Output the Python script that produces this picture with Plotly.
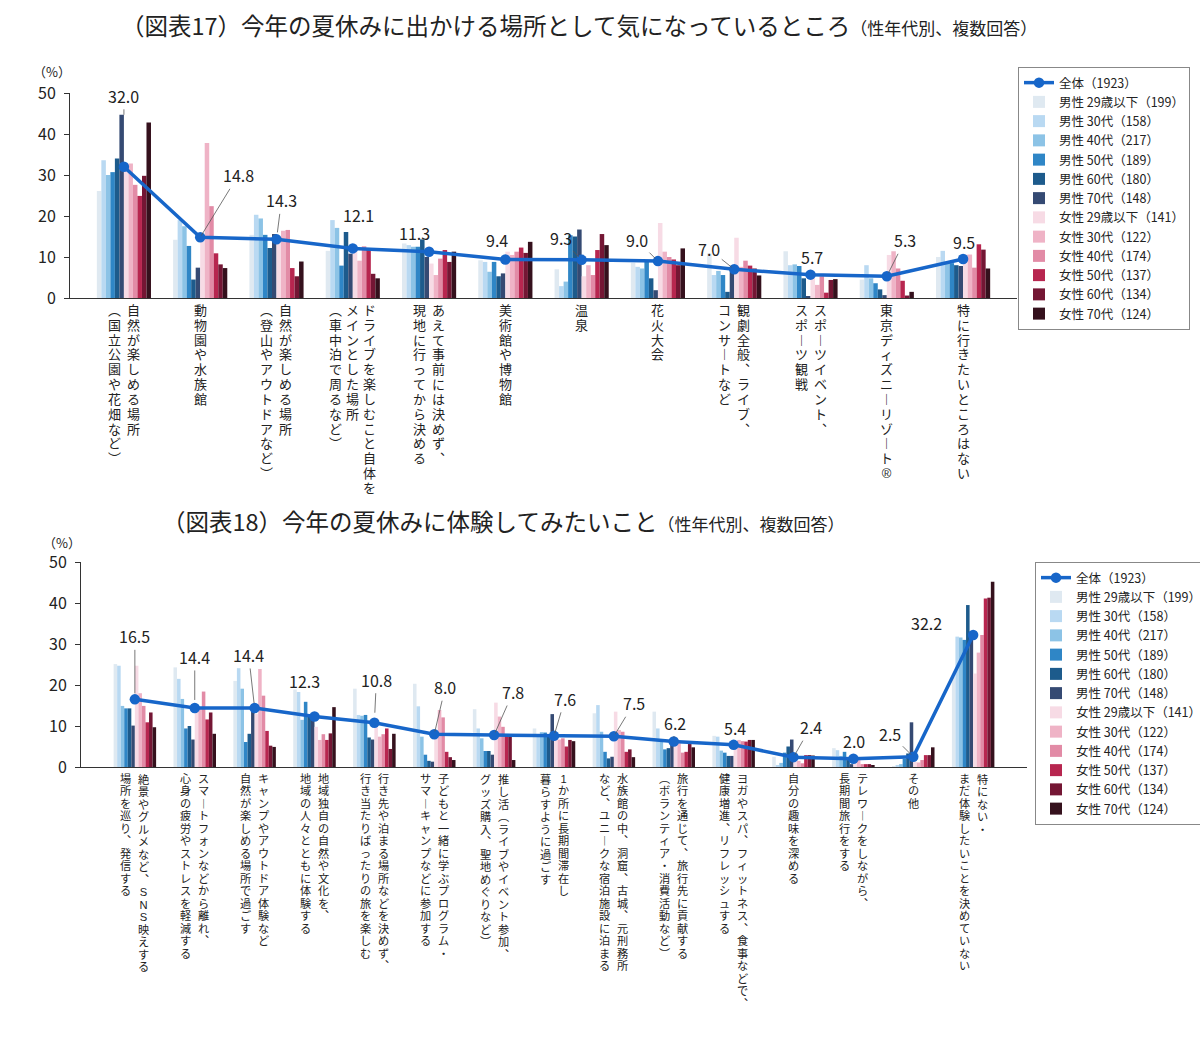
import plotly.graph_objects as go

FONT = "Noto Sans CJK JP"
VFONT = "Liberation Sans, Noto Sans CJK JP"
TXT = "#222222"
LINE_COLOR = "#1766c9"

# ---------------- data ----------------
series_names = ["男性 29歳以下（199）", "男性 30代（158）", "男性 40代（217）", "男性 50代（189）",
                "男性 60代（180）", "男性 70代（148）", "女性 29歳以下（141）", "女性 30代（122）",
                "女性 40代（174）", "女性 50代（137）", "女性 60代（134）", "女性 70代（124）"]
total_name = "全体（1923）"

# chart 17 categories (each entry = vertical text columns, right to left)
cats1 = [
    ["自然が楽しめる場所", "（国立公園や花畑など）"],
    ["動物園や水族館"],
    ["自然が楽しめる場所", "（登山やアウトドアなど）"],
    ["ドライブを楽しむこと自体を", "メインとした場所", "（車中泊で周るなど）"],
    ["あえて事前には決めず、", "現地に行ってから決める"],
    ["美術館や博物館"],
    ["温泉"],
    ["花火大会"],
    ["観劇全般、ライブ、", "コンサートなど"],
    ["スポーツイベント、", "スポーツ観戦"],
    ["東京ディズニーリゾート®"],
    ["特に行きたいところはない"],
]
total1 = [32.0, 14.8, 14.3, 12.1, 11.3, 9.4, 9.3, 9.0, 7.0, 5.7, 5.3, 9.5]
m29_1 = [26.1, 14.2, 15.4, 11.5, 13.3, 9.2, 7.0, 8.6, 10.9, 11.4, 4.5, 10.0]
m30_1 = [33.6, 19.0, 20.3, 19.0, 12.9, 8.8, 2.9, 7.6, 5.6, 8.0, 8.0, 11.5]
m40_1 = [30.0, 17.5, 19.4, 17.1, 12.5, 6.4, 4.0, 7.2, 6.6, 8.2, 4.8, 8.5]
m50_1 = [30.7, 12.7, 15.4, 7.9, 12.5, 8.8, 15.3, 8.8, 5.6, 7.8, 3.6, 8.5]
m60_1 = [34.0, 4.5, 12.2, 16.1, 14.3, 5.3, 15.0, 4.8, 1.5, 4.8, 2.1, 8.0]
m70_1 = [44.7, 7.4, 15.6, 10.8, 10.0, 6.0, 16.7, 1.9, 6.5, 0.3, 0.7, 7.8]
f29_1 = [32.8, 15.5, 15.0, 11.3, 8.4, 11.3, 5.3, 18.3, 14.7, 5.0, 10.5, 10.6]
f30_1 = [32.8, 37.8, 16.4, 9.1, 5.6, 10.5, 8.0, 11.3, 7.6, 3.2, 11.4, 10.6]
f40_1 = [27.6, 22.4, 16.6, 12.6, 9.6, 11.3, 5.6, 10.0, 9.1, 5.3, 7.2, 7.4]
f50_1 = [24.9, 10.9, 7.3, 12.2, 11.7, 12.3, 11.7, 9.4, 7.9, 1.3, 4.2, 13.1]
f60_1 = [29.8, 8.2, 5.3, 5.9, 8.8, 11.0, 15.6, 8.0, 7.2, 4.4, 0.6, 11.8]
f70_1 = [42.8, 7.3, 8.9, 4.8, 11.3, 13.7, 12.9, 12.1, 5.5, 4.6, 1.5, 7.2]

# chart 18 categories
cats2 = [
    ["絶景やグルメなど、SNS映えする", "場所を巡り、発信する"],
    ["スマートフォンなどから離れ、", "心身の疲労やストレスを軽減する"],
    ["キャンプやアウトドア体験など", "自然が楽しめる場所で過ごす"],
    ["地域独自の自然や文化を、", "地域の人々とともに体験する"],
    ["行き先や泊まる場所などを決めず、", "行き当たりばったりの旅を楽しむ"],
    ["子どもと一緒に学ぶプログラム・", "サマーキャンプなどに参加する"],
    ["推し活（ライブやイベント参加、", "グッズ購入、聖地めぐりなど）"],
    ["1か所に長期間滞在し", "暮らすように過ごす"],
    ["水族館の中、洞窟、古城、元刑務所", "など、ユニークな宿泊施設に泊まる"],
    ["旅行を通じて、旅行先に貢献する", "（ボランティア・消費活動など）"],
    ["ヨガやスパ、フィットネス、食事などで、", "健康増進、リフレッシュする"],
    ["自分の趣味を深める"],
    ["テレワークをしながら、", "長期間旅行をする"],
    ["その他"],
    ["特にない・", "まだ体験したいことを決めていない"],
]
total2 = [16.5, 14.4, 14.4, 12.3, 10.8, 8.0, 7.8, 7.6, 7.5, 6.2, 5.4, 2.4, 2.0, 2.5, 32.2]
m29_2 = [25.1, 24.3, 21.0, 18.9, 19.1, 20.3, 14.1, 9.4, 13.1, 13.5, 7.6, 2.5, 4.6, 0.2, 22.0]
m30_2 = [24.7, 21.5, 24.1, 18.3, 12.7, 14.8, 9.4, 7.5, 15.1, 9.4, 7.4, 0.5, 4.1, 0.5, 31.8]
m40_2 = [14.9, 16.6, 19.1, 11.5, 12.5, 7.4, 7.0, 8.5, 8.6, 6.5, 4.0, 1.0, 2.7, 0.7, 31.6]
m50_2 = [14.3, 9.4, 6.1, 15.9, 12.7, 3.0, 3.9, 8.4, 3.7, 4.3, 3.5, 3.5, 3.7, 2.0, 31.0]
m60_2 = [14.3, 10.0, 8.1, 12.3, 7.2, 1.5, 3.9, 8.0, 2.1, 4.6, 2.7, 5.0, 1.7, 3.3, 39.5]
m70_2 = [10.1, 6.7, 13.5, 12.3, 6.7, 1.3, 3.0, 12.9, 2.5, 6.6, 2.7, 6.7, 0.7, 10.9, 33.0]
f29_2 = [24.7, 14.0, 13.0, 9.8, 11.9, 7.5, 15.7, 7.0, 13.5, 6.6, 5.4, 1.7, 1.3, 1.3, 22.8]
f30_2 = [18.0, 14.3, 23.9, 6.6, 7.4, 13.9, 12.3, 6.7, 9.0, 5.8, 6.6, 1.5, 1.7, 1.1, 27.9]
f40_2 = [14.9, 18.4, 17.4, 8.0, 8.0, 12.1, 9.8, 7.0, 8.6, 3.5, 6.3, 0.9, 0.7, 1.7, 32.2]
f50_2 = [10.9, 11.6, 8.8, 6.6, 9.4, 3.7, 7.8, 5.0, 3.7, 3.7, 6.2, 2.9, 0.7, 2.9, 41.1]
f60_2 = [13.3, 13.3, 5.2, 8.2, 4.4, 2.4, 7.4, 6.6, 4.3, 5.6, 6.6, 2.9, 0.7, 2.9, 41.3]
f70_2 = [9.7, 8.1, 4.9, 14.6, 8.1, 1.7, 1.7, 6.3, 2.4, 4.8, 6.6, 2.8, 0.3, 4.8, 45.2]

series1 = [m29_1, m30_1, m40_1, m50_1, m60_1, m70_1, f29_1, f30_1, f40_1, f50_1, f60_1, f70_1]
series2 = [m29_2, m30_2, m40_2, m50_2, m60_2, m70_2, f29_2, f30_2, f40_2, f50_2, f60_2, f70_2]

# ---------------- styles ----------------
bar_colors = ["#dfe9f1", "#b9d9f2", "#8cc3e6", "#2f86c6", "#1d5b8c", "#354a73",
              "#f7dbe5", "#efb3c6", "#e28ba6", "#b7264f", "#741634", "#35111d"]

# value label offsets in px: (ax, ay, standoff, leader)
lab1 = [(0, -71, 52, True), (38, -62, 2, True), (5, -39, 7, True), (6, -33, 0, False),
        (-15, -19, 0, False), (-8, -19, 0, False), (-21, -22, 4, True), (-21, -21, 4, True),
        (-25, -20, 3, True), (1, -18, 0, False), (18, -36, 4, True), (1, -17, 0, False)]
lab2 = [(0, -63, 6, True), (0, -51, 8, True), (-6, -53, 5, True), (-10, -36, 0, False),
        (2, -43, 10, True), (11, -47, 3, True), (19, -43, 3, True), (11, -37, 3, True),
        (20, -33, 3, True), (1, -19, 4, True), (1, -17, 0, False), (17, -30, 3, True),
        (1, -18, 0, False), (-23, -23, 3, True), (-47, -12, 0, False)]

VMAP = {"（": "︵", "）": "︶", "(": "︵", ")": "︶", "ー": "︱", "、": "︑"}


def vtext(s, size):
    return "<br>".join("<span style='font-size:%spx'>%s</span>" % (size, VMAP.get(c, c)) for c in s)


fig = go.Figure()
annotations = []


def add_chart(cats, series, total, xa, ya, legend, labs, label_top, col_offsets,
              base_size, char_size):
    keys = ["".join(c) for c in cats]
    fig.add_trace(go.Scatter(x=keys, y=total, name=total_name, mode="lines+markers",
                             line=dict(color=LINE_COLOR, width=3.5),
                             marker=dict(size=10.5, color=LINE_COLOR),
                             xaxis=xa, yaxis=ya, legend=legend, hoverinfo="skip"))
    for name, vals, col in zip(series_names, series, bar_colors):
        fig.add_trace(go.Bar(x=keys, y=vals, name=name,
                             marker=dict(color=col, line=dict(width=0)),
                             xaxis=xa, yaxis=ya, legend=legend))
    # value labels for the total line
    for k, v, (ax, ay, so, leader) in zip(keys, total, labs):
        annotations.append(dict(
            x=k, y=v, xref=xa, yref=ya, text="%.1f" % v, showarrow=True,
            ax=ax, ay=ay, arrowhead=0, arrowwidth=0.8, standoff=so,
            arrowcolor="#555555" if leader else "rgba(0,0,0,0)",
            font=dict(size=16, color=TXT, family=FONT)))
    # vertical category labels
    for k, cols in zip(keys, cats):
        offs = col_offsets[len(cols)]
        for line, dx in zip(cols, offs):
            annotations.append(dict(
                x=k, y=label_top, xref=xa, yref="paper", xanchor="center", yanchor="top",
                xshift=dx, showarrow=False, text=vtext(line, char_size),
                font=dict(size=base_size, color=TXT, family=VFONT)))


H = 1038.0
W = 1200.0
add_chart(cats1, series1, total1, "x", "y", "legend", lab1, 1 - 301 / H,
          {1: [0], 2: [9.5, -9.5], 3: [17, 0, -17]}, 11.4, 13)
add_chart(cats2, series2, total2, "x2", "y2", "legend2", lab2, 1 - 771 / H,
          {1: [0], 2: [9, -9]}, 9.6, 11.2)

# titles and unit labels
annotations.append(dict(x=579 / W, y=1 - 25 / H, xref="paper", yref="paper", showarrow=False,
                        xanchor="center", yanchor="middle",
                        text="（図表17）今年の夏休みに出かける場所として気になっているところ"
                             "<span style='font-size:17px'>（性年代別、複数回答）</span>",
                        font=dict(size=23.5, color=TXT, family=FONT)))
annotations.append(dict(x=503 / W, y=1 - 521 / H, xref="paper", yref="paper", showarrow=False,
                        xanchor="center", yanchor="middle",
                        text="（図表18）今年の夏休みに体験してみたいこと"
                             "<span style='font-size:17px'>（性年代別、複数回答）</span>",
                        font=dict(size=23.5, color=TXT, family=FONT)))
annotations.append(dict(x=52 / W, y=1 - 72 / H, xref="paper", yref="paper", showarrow=False,
                        xanchor="center", yanchor="middle", text="（%）",
                        font=dict(size=13, color=TXT, family=FONT)))
annotations.append(dict(x=62 / W, y=1 - 542 / H, xref="paper", yref="paper", showarrow=False,
                        xanchor="center", yanchor="middle", text="（%）",
                        font=dict(size=13, color=TXT, family=FONT)))

xaxis_style = dict(showline=True, linecolor="#333333", linewidth=1, ticks="",
                   showticklabels=False, showgrid=False, zeroline=False, fixedrange=True,
                   automargin=False)
yaxis_style = dict(range=[0, 50], dtick=10, ticks="outside", ticklen=5, tickcolor="#333333",
                   showline=True, linecolor="#333333", linewidth=1, showgrid=False,
                   zeroline=False, tickfont=dict(size=16, color=TXT, family=FONT),
                   ticklabelstandoff=5, fixedrange=True, automargin=False)

legend_style = dict(xanchor="left", yanchor="top", bordercolor="#888888", borderwidth=1,
                    bgcolor="white", font=dict(size=12.5, color=TXT, family=FONT),
                    tracegroupgap=0, traceorder="normal", itemwidth=30)

fig.update_layout(
    width=1200, height=1038, autosize=False,
    margin=dict(l=0, r=0, t=0, b=0, pad=0, autoexpand=False),
    paper_bgcolor="white", plot_bgcolor="white",
    font=dict(family=FONT, color=TXT),
    barmode="group", bargap=0.29, bargroupgap=0,
    xaxis=dict(domain=[70 / W, 1017 / W], anchor="y", **xaxis_style),
    yaxis=dict(domain=[1 - 298 / H, 1 - 93 / H], anchor="x", **yaxis_style),
    xaxis2=dict(domain=[81 / W, 1027 / W], anchor="y2", **xaxis_style),
    yaxis2=dict(domain=[1 - 767 / H, 1 - 562 / H], anchor="x2", **yaxis_style),
    legend=dict(x=1018 / W, y=1 - 67 / H, **legend_style),
    legend2=dict(x=1035 / W, y=1 - 562 / H, **legend_style),
    annotations=annotations,
    showlegend=True,
)

fig.write_html("out.html", config={"displayModeBar": False},
               post_script="document.body.style.margin='0';document.body.style.overflow='hidden';")
